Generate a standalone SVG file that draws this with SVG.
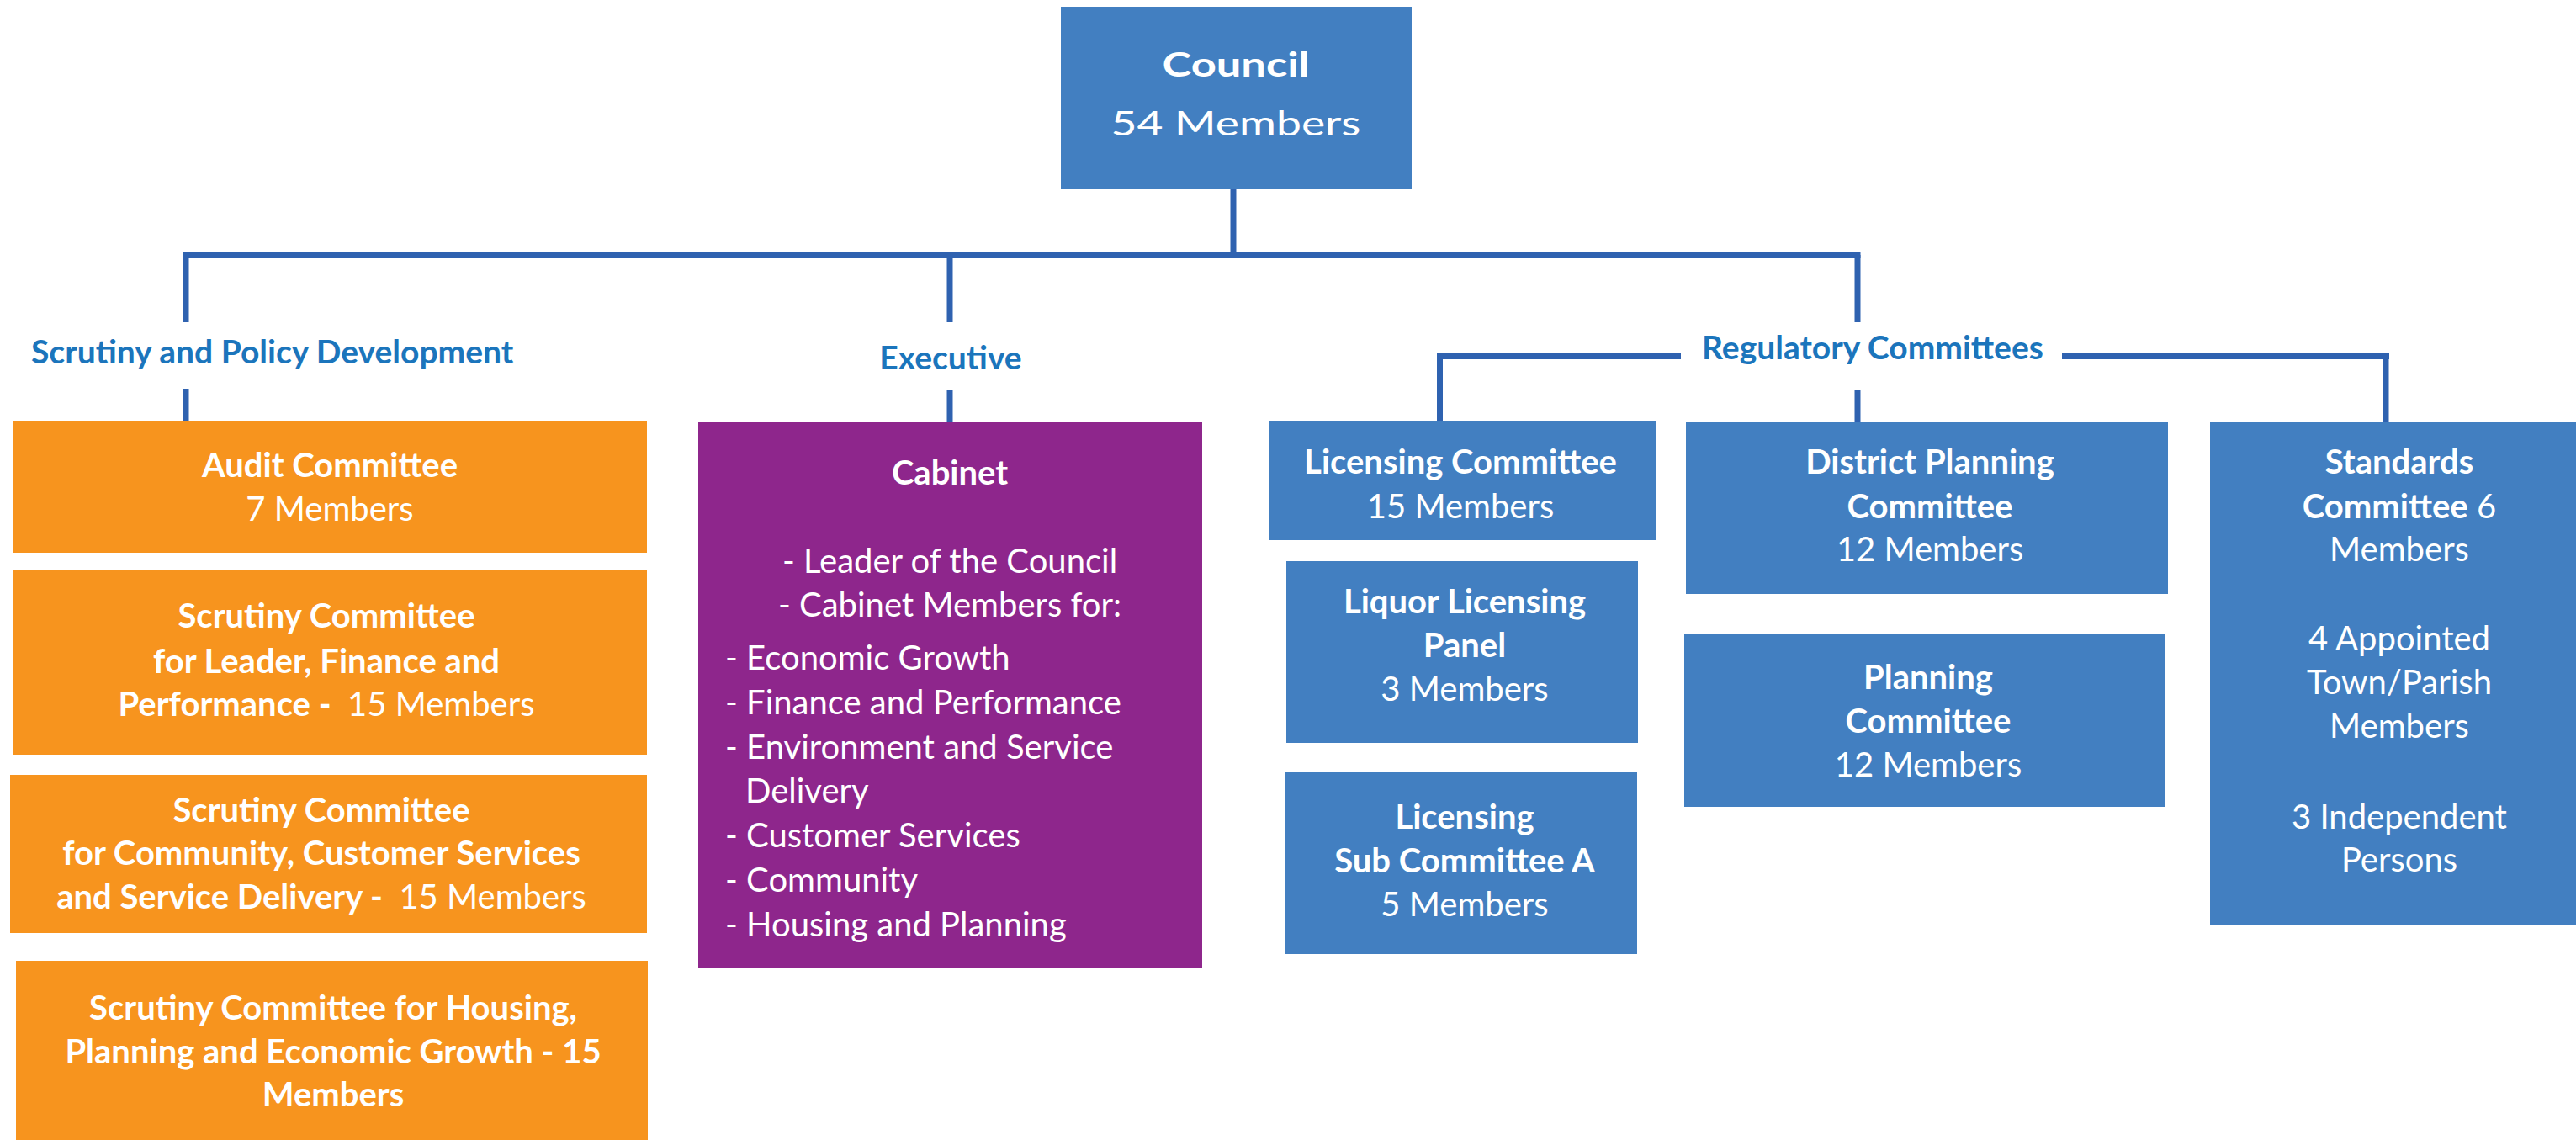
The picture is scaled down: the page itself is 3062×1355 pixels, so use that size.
<svg xmlns="http://www.w3.org/2000/svg" width="3062" height="1355" viewBox="0 0 3062 1355">
<style>
.t{font-family:Lato,"Open Sans","Liberation Sans",sans-serif;fill:#ffffff;font-size:40px}
.b{font-weight:bold}
.c{text-anchor:middle}
.lab{font-family:Lato,"Open Sans","Liberation Sans",sans-serif;font-weight:bold;font-size:39px;fill:#1B75BC}
.blue{fill:#427FC1}
.orange{fill:#F7941E}
.purple{fill:#8E268C}
.con line{stroke:#2F62B0;stroke-width:7}
.bus{stroke-width:8!important}
</style>
<rect width="3062" height="1355" fill="#ffffff"/>
<g id="connectors" class="con">
<line x1="1466" y1="225" x2="1466" y2="303"/>
<line class="bus" x1="217.5" y1="303" x2="2211.5" y2="303"/>
<line x1="221" y1="303" x2="221" y2="383"/>
<line x1="221" y1="462" x2="221" y2="500"/>
<line x1="1129" y1="303" x2="1129" y2="383"/>
<line x1="1129" y1="464" x2="1129" y2="501"/>
<line x1="2208" y1="303" x2="2208" y2="383"/>
<line x1="2208" y1="463" x2="2208" y2="502"/>
<line class="bus" x1="1708" y1="423" x2="1998" y2="423"/>
<line class="bus" x1="2451" y1="423" x2="2840" y2="423"/>
<line x1="1711.5" y1="423" x2="1711.5" y2="501"/>
<line x1="2836" y1="423" x2="2836" y2="502"/>
</g>
<g id="labels">
<text class="lab" x="37" y="432">Scrutiny and Policy Development</text>
<text class="lab c" x="1130" y="439">Executive</text>
<text class="lab c" x="2226" y="427">Regulatory Committees</text>
</g>
<g id="council">
<rect class="blue" x="1261" y="8" width="417" height="217"/>
<text class="t b c" x="1469" y="91" font-size="56" textLength="175" lengthAdjust="spacingAndGlyphs">Council</text>
<text class="t c" x="1469" y="161" font-size="50" textLength="297" lengthAdjust="spacingAndGlyphs">54 Members</text>
</g>
<g id="audit">
<rect class="orange" x="15" y="500" width="754" height="157"/>
<text class="t b c" x="392" y="567">Audit Committee</text>
<text class="t c" x="392" y="619">7 Members</text>
</g>
<g id="scrutiny-leader">
<rect class="orange" x="15" y="677" width="754" height="220"/>
<text class="t b c" x="388" y="746">Scrutiny Committee</text>
<text class="t b c" x="388" y="800">for Leader, Finance and</text>
<text class="t c" x="388" y="851" xml:space="preserve"><tspan class="b">Performance -  </tspan>15 Members</text>
</g>
<g id="scrutiny-community">
<rect class="orange" x="12" y="921" width="757" height="188"/>
<text class="t b c" x="382" y="977">Scrutiny Committee</text>
<text class="t b c" x="382" y="1028">for Community, Customer Services</text>
<text class="t c" x="382" y="1080" xml:space="preserve"><tspan class="b">and Service Delivery -  </tspan>15 Members</text>
</g>
<g id="scrutiny-housing">
<rect class="orange" x="19" y="1142" width="751" height="213"/>
<text class="t b c" x="396" y="1212">Scrutiny Committee for Housing,</text>
<text class="t b c" x="396" y="1264">Planning and Economic Growth - 15</text>
<text class="t b c" x="396" y="1315">Members</text>
</g>
<g id="cabinet">
<rect class="purple" x="830" y="501" width="599" height="649"/>
<text class="t b c" x="1129" y="576">Cabinet</text>
<text class="t c" x="1129" y="681">- Leader of the Council</text>
<text class="t c" x="1129" y="733">- Cabinet Members for:</text>
<text class="t" x="862" y="796">- Economic Growth</text>
<text class="t" x="862" y="849">- Finance and Performance</text>
<text class="t" x="862" y="902">- Environment and Service</text>
<text class="t" x="886" y="954">Delivery</text>
<text class="t" x="862" y="1007">- Customer Services</text>
<text class="t" x="862" y="1060">- Community</text>
<text class="t" x="862" y="1113">- Housing and Planning</text>
</g>
<g id="licensing">
<rect class="blue" x="1508" y="500" width="461" height="142"/>
<text class="t b c" x="1736" y="563">Licensing Committee</text>
<text class="t c" x="1736" y="616">15 Members</text>
</g>
<g id="liquor">
<rect class="blue" x="1529" y="667" width="418" height="216"/>
<text class="t b c" x="1741" y="729">Liquor Licensing</text>
<text class="t b c" x="1741" y="781">Panel</text>
<text class="t c" x="1741" y="833">3 Members</text>
</g>
<g id="subcommittee">
<rect class="blue" x="1528" y="918" width="418" height="216"/>
<text class="t b c" x="1741" y="985">Licensing</text>
<text class="t b c" x="1741" y="1037">Sub Committee A</text>
<text class="t c" x="1741" y="1089">5 Members</text>
</g>
<g id="district-planning">
<rect class="blue" x="2004" y="501" width="573" height="205"/>
<text class="t b c" x="2294" y="563">District Planning</text>
<text class="t b c" x="2294" y="616">Committee</text>
<text class="t c" x="2294" y="667">12 Members</text>
</g>
<g id="planning">
<rect class="blue" x="2002" y="754" width="572" height="205"/>
<text class="t b c" x="2292" y="819">Planning</text>
<text class="t b c" x="2292" y="871">Committee</text>
<text class="t c" x="2292" y="923">12 Members</text>
</g>
<g id="standards">
<rect class="blue" x="2627" y="502" width="435" height="598"/>
<text class="t b c" x="2852" y="563">Standards</text>
<text class="t c" x="2852" y="616"><tspan class="b">Committee</tspan> 6</text>
<text class="t c" x="2852" y="667">Members</text>
<text class="t c" x="2852" y="773">4 Appointed</text>
<text class="t c" x="2852" y="825">Town/Parish</text>
<text class="t c" x="2852" y="877">Members</text>
<text class="t c" x="2852" y="985">3 Independent</text>
<text class="t c" x="2852" y="1036">Persons</text>
</g>
</svg>
